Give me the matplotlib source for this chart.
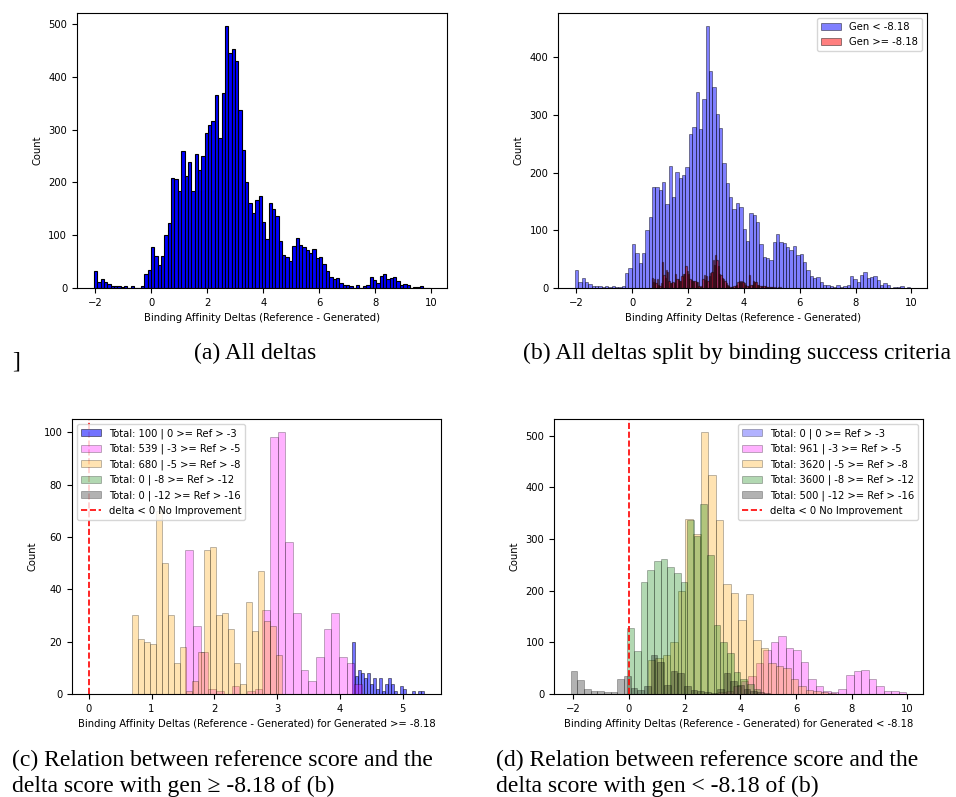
import numpy as np
import matplotlib
matplotlib.use("Agg")
import matplotlib.pyplot as plt
from matplotlib.patches import Patch
from matplotlib.lines import Line2D

# ---- (a) all deltas: 100 equal bins ----
all_lo, all_hi = -2.06, 9.96
all_counts = [32, 11, 17, 11, 7, 4, 3, 3, 2, 4,
              1, 3, 1, 1, 4, 26, 35, 77, 61, 44,
              60, 101, 123, 208, 207, 184, 260, 212, 238, 184,
              253, 224, 251, 294, 309, 316, 366, 284, 370, 496,
              446, 452, 430, 338, 262, 201, 162, 143, 167, 174,
              125, 93, 162, 150, 136, 89, 63, 59, 51, 80,
              95, 81, 78, 72, 66, 73, 57, 59, 46, 32,
              21, 18, 19, 10, 6, 6, 4, 1, 5, 1,
              3, 6, 20, 16, 10, 22, 27, 17, 19, 21,
              14, 6, 8, 6, 0, 2, 2, 4, 0, 1]

# ---- (b) split by gen score ----
gen_lt_counts = [32, 11, 17, 11, 7, 4, 3, 3, 2, 4,
                 1, 3, 1, 1, 4, 26, 35, 77, 61, 44,
                 60, 101, 123, 175, 175, 170, 183, 146, 211, 158,
                 201, 190, 196, 209, 267, 279, 339, 276, 328, 454,
                 377, 349, 302, 277, 217, 182, 157, 137, 148, 141,
                 102, 81, 130, 126, 115, 77, 54, 52, 48, 79,
                 94, 80, 78, 72, 66, 73, 57, 59, 46, 32,
                 21, 18, 19, 10, 6, 6, 4, 1, 5, 1,
                 3, 6, 20, 16, 10, 22, 27, 17, 19, 21,
                 14, 6, 8, 6, 0, 2, 2, 4, 0, 1]
gen_ge_lo, gen_ge_hi = 0.69, 5.345
gen_ge_counts = [17, 10, 16, 8, 16, 5, 4, 8, 45, 22,
                 18, 32, 28, 12, 8, 9, 10, 8, 24, 16,
                 16, 12, 13, 20, 24, 25, 38, 30, 24, 15,
                 14, 13, 12, 12, 10, 10, 4, 2, 3, 15,
                 22, 14, 20, 12, 20, 26, 28, 48, 40, 58,
                 48, 38, 24, 22, 18, 16, 12, 8, 6, 4,
                 2, 2, 2, 3, 4, 6, 10, 12, 10, 12,
                 10, 8, 5, 4, 4, 22, 6, 6, 12, 10,
                 10, 6, 6, 4, 4, 3, 3, 3, 2, 2,
                 1, 1, 1, 1, 0, 1, 0, 1, 0, 1]

# ---- reference score groups ----
ref_groups = ["0 >= Ref > -3", "-3 >= Ref > -5", "-5 >= Ref > -8",
              "-8 >= Ref > -12", "-12 >= Ref > -16"]
ref_colors = ["blue", "magenta", "orange", "green", "black"]

# (c) generated >= -8.18 : (lo, hi) and counts per group
c_totals = [100, 539, 680, 0, 0]
c_ranges = [(4.19, 5.345), (1.541, 4.352), (0.69, 3.082), None, None]
c_counts = [
    [20, 7, 9, 8, 6, 8, 4, 6, 2, 6, 1, 4, 6, 4, 1, 0, 3, 2, 0, 0, 1, 0, 1, 1],
    [55, 26, 16, 2, 1, 0, 3, 0, 1, 2, 32, 98, 100, 58, 31, 9, 5, 14, 25, 31,
     14, 12, 4],
    [30, 21, 20, 19, 70, 50, 30, 12, 18, 1, 5, 16, 55, 56, 30, 31, 25, 12, 4,
     35, 24, 47, 28, 26, 15],
    [],
    [],
]

# (d) generated < -8.18
d_totals = [0, 961, 3620, 3600, 500]
d_ranges = [None, (3.2, 9.96), (0.68, 7.43), (-0.06, 4.72), (-2.09, 5.08)]
d_counts = [
    [],
    [3, 5, 15, 25, 35, 60, 85, 100, 113, 90, 85, 62, 30, 15, 6, 4, 9, 36,
     44, 46, 30, 16, 6, 6, 3],
    [65, 70, 75, 100, 200, 338, 310, 507, 425, 337, 213, 196, 143, 193, 105,
     89, 60, 55, 50, 30, 15, 8, 5, 3, 2],
    [127, 83, 217, 240, 257, 261, 246, 235, 217, 336, 305, 367, 269, 133,
     101, 80, 43, 30, 20, 10],
    [44, 28, 10, 5, 6, 3, 3, 30, 34, 12, 8, 15, 75, 62, 18, 45, 40, 15, 7,
     5, 3, 2, 10, 40, 25, 18, 9, 5, 3, 2],
]

FS = 7.2
plt.rcParams['font.size'] = FS


def hist_counts(ax, lo, hi, counts, **kw):
    edges = np.linspace(lo, hi, len(counts) + 1)
    mids = (edges[:-1] + edges[1:]) / 2
    ax.hist(mids, bins=edges, weights=counts, **kw)


def style(ax, xlabel):
    ax.set_xlabel(xlabel, fontsize=FS)
    ax.set_ylabel("Count", fontsize=FS)
    ax.tick_params(labelsize=FS)


fig = plt.figure(figsize=(9.56, 7.97), dpi=100)
ax_a = fig.add_axes([0.0805, 0.6386, 0.387, 0.345])
ax_b = fig.add_axes([0.5837, 0.6386, 0.386, 0.345])
ax_c = fig.add_axes([0.0753, 0.1292, 0.386, 0.345])
ax_d = fig.add_axes([0.5795, 0.1292, 0.386, 0.345])

xlab = "Binding Affinity Deltas (Reference - Generated)"

# (a)
hist_counts(ax_a, all_lo, all_hi, all_counts, color="blue",
            edgecolor="black", linewidth=0.8)
style(ax_a, xlab)

# (b)
hist_counts(ax_b, all_lo, all_hi, gen_lt_counts, color="blue", alpha=0.5,
            edgecolor="black", linewidth=0.6, label="Gen < -8.18")
hist_counts(ax_b, gen_ge_lo, gen_ge_hi, gen_ge_counts, color="red", alpha=0.5,
            edgecolor="black", linewidth=0.9, label="Gen >= -8.18")
leg = ax_b.legend(loc="upper right", fontsize=FS)
for h in leg.legend_handles:
    h.set_linewidth(0.6)
style(ax_b, xlab)


def group_panel(ax, totals, ranges, counts, alphas, loc, xlabel):
    handles = []
    for i in range(len(ref_groups)):
        if ranges[i] is not None:
            hist_counts(ax, ranges[i][0], ranges[i][1], counts[i],
                        color=ref_colors[i], alpha=alphas[i],
                        edgecolor="black", linewidth=0.6)
        handles.append(Patch(facecolor=ref_colors[i], edgecolor="black",
                             linewidth=0.6, alpha=alphas[i],
                             label=f"Total: {totals[i]} | {ref_groups[i]}"))
    ax.axvline(0, color="red", linestyle="--", linewidth=1.2)
    handles.append(Line2D([0], [0], color="red", linestyle="--", linewidth=1.2,
                          label="delta < 0 No Improvement"))
    ax.legend(handles=handles, loc=loc, fontsize=FS)
    style(ax, xlabel)


group_panel(ax_c, c_totals, c_ranges, c_counts, [0.55, 0.3, 0.3, 0.3, 0.3],
            "upper left", xlab + " for Generated >= -8.18")
group_panel(ax_d, d_totals, d_ranges, d_counts, [0.3, 0.3, 0.3, 0.3, 0.3],
            "upper right", xlab + " for Generated < -8.18")

# captions
cap = dict(fontsize=17, family=["Liberation Serif", "DejaVu Serif"])
fig.text(255 / 956, 1 - 353 / 797, "(a) All deltas", ha="center", va="center", **cap)
fig.text(737 / 956, 1 - 353 / 797, "(b) All deltas split by binding success criteria",
         ha="center", va="center", **cap)
fig.text(12 / 956, 1 - 362 / 797, "]", ha="left", va="center", **cap)
fig.text(12 / 956, 1 - 760 / 797, "(c) Relation between reference score and the",
         ha="left", va="center", **cap)
fig.text(12 / 956, 1 - 786 / 797, "delta score with gen \u2265 -8.18 of (b)",
         ha="left", va="center", **cap)
fig.text(496 / 956, 1 - 760 / 797, "(d) Relation between reference score and the",
         ha="left", va="center", **cap)
fig.text(496 / 956, 1 - 786 / 797, "delta score with gen < -8.18 of (b)",
         ha="left", va="center", **cap)

fig.savefig("out.png", dpi=100)
